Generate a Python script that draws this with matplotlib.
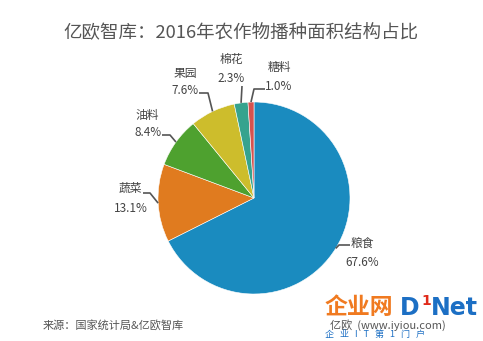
import numpy as np
import matplotlib
matplotlib.use("Agg")
import matplotlib.pyplot as plt

plt.rcParams['font.family'] = ['Noto Sans CJK SC', 'DejaVu Sans']

categories = ['粮食', '蔬菜', '油料', '果园', '棉花', '糖料']
values = [67.6, 13.1, 8.4, 7.6, 2.3, 1.0]
pct_labels = ['67.6%', '13.1%', '8.4%', '7.6%', '2.3%', '1.0%']
colors = ['#1a8bbf', '#e07b1f', '#4ea12f', '#cdbd2c', '#36a38e', '#d6524f']

W, H = 483, 341
CX, CY, R = 254, 198, 96

# label layout (pixel coords, y down): name centre, pct centre, elbow, end
name_pos = [(362, 243), (130, 188), (147, 115), (185, 73), (231, 60), (279, 68)]
pct_pos = [(362, 262), (131, 209), (148, 133), (185, 91), (231, 78), (279, 86)]
elbow_pos = [(339, 245), (150, 193), (170, 135), (208, 93), (242, 86), (254, 89)]
end_pos = [(350, 245), (143, 193), (162, 135), (199, 93), (242, 86), (265, 89)]


def Y(p):
    return H - p


fig = plt.figure(figsize=(W / 100, H / 100), dpi=100)
ax = fig.add_axes([0, 0, 1, 1])

wedges, _ = ax.pie(values, colors=colors, startangle=90, counterclock=False,
                   center=(CX, Y(CY)), radius=R, frame=True,
                   wedgeprops=dict(edgecolor='white', linewidth=0.4))
ax.set_xlim(0, W)
ax.set_ylim(0, H)
ax.set_aspect('equal')
ax.axis('off')

for i, w in enumerate(wedges):
    mid = np.deg2rad((w.theta1 + w.theta2) / 2)
    sx = CX + R * np.cos(mid)
    sy = Y(CY) + R * np.sin(mid)
    ex, ey = elbow_pos[i]
    fx, fy = end_pos[i]
    ax.plot([sx, ex, fx], [sy, Y(ey), Y(fy)], color='#555555', lw=1.2,
            solid_capstyle='butt', zorder=3)
    ax.text(name_pos[i][0], Y(name_pos[i][1]), categories[i], ha='center',
            va='center', fontsize=8.5, color='#444444')
    ax.text(pct_pos[i][0], Y(pct_pos[i][1]), pct_labels[i], ha='center',
            va='center', fontsize=8.5, color='#444444')

ax.text(241, Y(33), '亿欧智库：2016年农作物播种面积结构占比', ha='center',
        va='center', fontsize=13.3, color='#555555')
ax.text(43, Y(325), '来源：国家统计局&亿欧智库', ha='left', va='center',
        fontsize=8, color='#555555')

# watermark
ax.text(325, Y(308), '企业网', ha='left', va='center', fontsize=16.5,
        color='#f07a20', fontweight='bold')
ax.text(400, Y(308), 'D', ha='left', va='center', fontsize=17,
        color='#1c6fc4', fontweight='bold', family='DejaVu Sans')
ax.text(421, Y(301), '1', ha='left', va='center', fontsize=10,
        color='#e02a1a', fontweight='bold', family='DejaVu Sans')
ax.text(431, Y(308), 'Net', ha='left', va='center', fontsize=17,
        color='#1c6fc4', fontweight='bold', family='DejaVu Sans')
ax.text(330, Y(325), '亿欧  (www.iyiou.com)', ha='left', va='center',
        fontsize=8, color='#555555')
ax.text(325, Y(334), '企   业   I   T   第   1   门   户', ha='left',
        va='center', fontsize=6.5, color='#1c6fc4')

fig.savefig('out.png', dpi=100)
